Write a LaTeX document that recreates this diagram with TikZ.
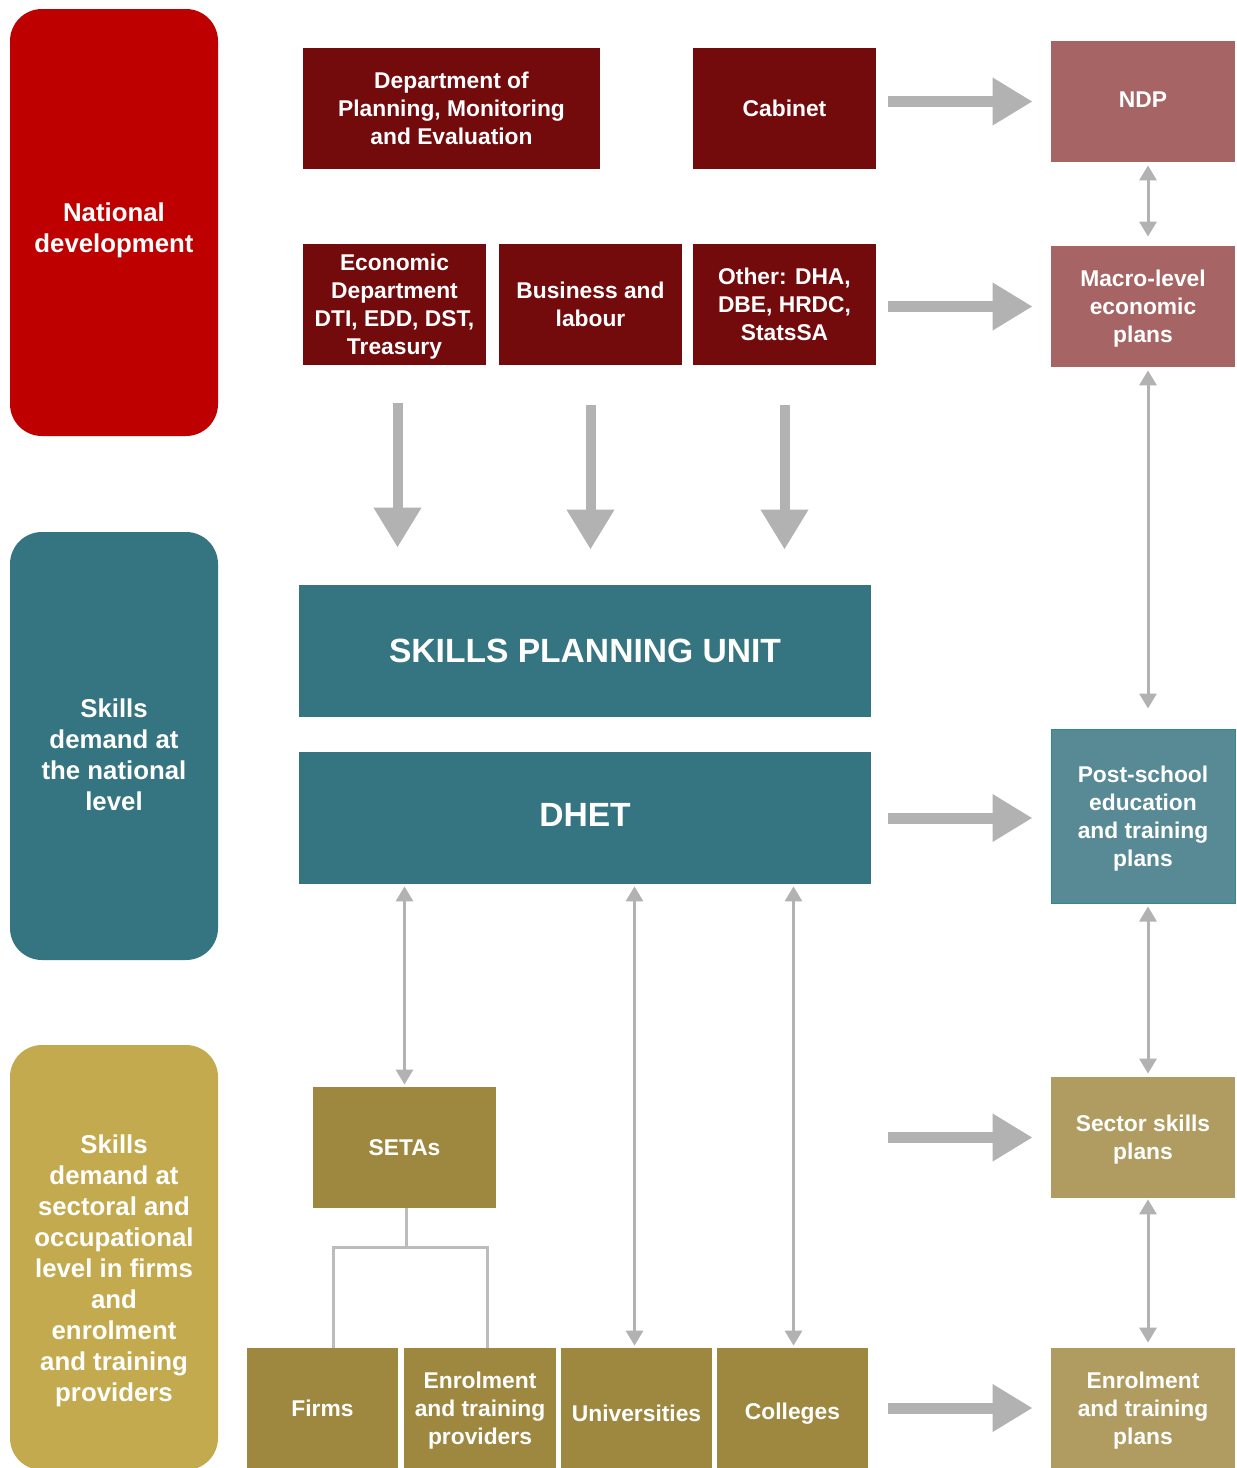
\documentclass[tikz,border=0pt]{standalone}
\usepackage{fontspec}
\setmainfont{Liberation Sans}
\usetikzlibrary{arrows.meta,calc}
\definecolor{natred}{HTML}{BF0000}
\definecolor{dred}{HTML}{730B0D}
\definecolor{rosebox}{HTML}{A66464}
\definecolor{teal1}{HTML}{357481}
\definecolor{teal2}{HTML}{588A95}
\definecolor{tealedge}{HTML}{2A8C8C}
\definecolor{goldL}{HTML}{C4AA4E}
\definecolor{goldM}{HTML}{9E8840}
\definecolor{goldR}{HTML}{B09C60}
\definecolor{arrowgrey}{HTML}{B3B2B3}
\definecolor{linegrey}{HTML}{BDBCBD}
\begin{document}
\begin{tikzpicture}[x=0.5pt,y=-0.5pt,
  box/.style={rectangle, inner sep=0pt, align=center, text=white, text depth=0pt,
    font=\bfseries\fontsize{11.4}{14}\selectfont},
  sidebox/.style={rectangle, rounded corners=16pt, inner sep=0pt, align=center,
    text=white, minimum width=104pt, font=\bfseries\fontsize{12.9}{15.5}\selectfont},
  sidetext/.style={inner sep=0pt, align=center, text=white,
    font=\bfseries\fontsize{12.9}{15.5}\selectfont},
  bigtext/.style={font=\bfseries\fontsize{16.8}{20}\selectfont},
  bigarrow/.style={draw=arrowgrey, line width=5.5pt, -{Triangle[width=22.5pt,length=20pt]}},
  downarrow/.style={draw=arrowgrey, line width=5pt, -{Triangle[width=22.5pt,length=20pt]}},
  thinarrow/.style={draw=arrowgrey, line width=1.5pt,
    {Triangle[width=8.5pt,length=7.5pt]}-{Triangle[width=8.5pt,length=7.5pt]}},
  joinline/.style={draw=linegrey, line width=1.5pt}
]
\useasboundingbox (0,0) rectangle (1237,1468);
\fill[white] (0,0) rectangle (1237,1468);

% left column
\node[sidebox, fill=natred, minimum height=213.5pt] (nat) at (114,222.5) {};
\node[sidetext] (natt) at (114,230.5) {National\\development};
\node[sidebox, fill=teal1, minimum height=214pt] (snat) at (114,746) {};
\node[sidetext] (snatt) at (114,755) {Skills\\demand at\\the national\\level};
\node[sidebox, fill=goldL, minimum height=212.5pt] (ssec) at (114,1257.5) {};
\node[sidetext] (ssect) at (114,1271)
  {Skills\\demand at\\sectoral and\\occupational\\level in firms\\and\\enrolment\\and training\\providers};

% top dark-red boxes
\node[box, fill=dred, minimum width=148.5pt, minimum height=60.5pt] (dpme) at (451.5,108.5)
  {Department of\\Planning, Monitoring\\and Evaluation};
\node[box, fill=dred, minimum width=91.5pt, minimum height=60.5pt] (cab) at (784.5,108.5)
  {Cabinet};
\node[box, fill=dred, minimum width=91.5pt, minimum height=60.5pt, text depth=-6pt] (econ) at (394.5,304.5)
  {Economic\\Department\\DTI, EDD, DST,\\Treasury};
\node[box, fill=dred, minimum width=91.5pt, minimum height=60.5pt] (bus) at (590.5,304.5)
  {Business and\\labour};
\node[box, fill=dred, minimum width=91.5pt, minimum height=60.5pt] (oth) at (784.5,304.5)
  {Other: DHA,\\DBE, HRDC,\\StatsSA};

% right column
\node[box, fill=rosebox, minimum width=92pt, minimum height=60.5pt, text depth=2pt] (ndp) at (1143,101.5)
  {NDP};
\node[box, fill=rosebox, minimum width=92pt, minimum height=60.5pt, text depth=-0.6pt] (macro) at (1143,306.5)
  {Macro-level\\economic\\plans};
\node[box, fill=teal2, draw=tealedge, line width=0.5pt, minimum width=92pt, minimum height=87pt, text depth=-5pt] (post) at (1143,816)
  {Post-school\\education\\and training\\plans};
\node[box, fill=goldR, minimum width=92pt, minimum height=60.5pt] (sector) at (1143,1137.5)
  {Sector skills\\plans};
\node[box, fill=goldR, minimum width=92pt, minimum height=60pt, text depth=-1.1pt] (enrp) at (1143,1408)
  {Enrolment\\and training\\plans};

% centre teal boxes
\node[box, bigtext, fill=teal1, minimum width=286pt, minimum height=66pt] (spu) at (585,651)
  {SKILLS PLANNING UNIT};
\node[box, bigtext, fill=teal1, minimum width=286pt, minimum height=66pt, text depth=3pt] (dhet) at (585,818)
  {DHET};

% gold boxes
\node[box, fill=goldM, minimum width=91.5pt, minimum height=60.5pt] (setas) at (404.5,1147.5)
  {SETAs};
\node[box, fill=goldM, minimum width=75.5pt, minimum height=60pt] (firms) at (322.5,1408)
  {Firms};
\node[box, fill=goldM, minimum width=76pt, minimum height=60pt, text depth=-2.6pt] (prov) at (480,1408)
  {Enrolment\\and training\\providers};
\node[box, fill=goldM, minimum width=75.5pt, minimum height=60pt, text height=13pt] (uni) at (636.5,1408)
  {Universities};
\node[box, fill=goldM, minimum width=75.5pt, minimum height=60pt, text height=11.5pt] (col) at (792.5,1408)
  {Colleges};

% thick horizontal arrows
\draw[bigarrow] ([xshift=6pt]cab.east |- ndp.west) -- ([xshift=-9pt]ndp.west);
\draw[bigarrow] ([xshift=6pt]oth.east |- macro.west) -- ([xshift=-9pt]macro.west);
\draw[bigarrow] ([xshift=8.5pt]dhet.east) -- ([xshift=-9pt]dhet.east -| post.west);
\coordinate (ss0) at (888,1137.5);
\draw[bigarrow] (ss0) -- ([xshift=-9pt]sector.west);
\draw[bigarrow] ([xshift=10pt]col.east) -- ([xshift=-9pt]col.east -| enrp.west);

% thick down arrows
\draw[downarrow] ([xshift=1.5pt,yshift=-19pt]econ.south) -- ([xshift=1.5pt,yshift=18.5pt]econ.south |- spu.north);
\draw[downarrow] ([yshift=-20pt]bus.south) -- ([yshift=17.5pt]bus.south |- spu.north);
\draw[downarrow] ([yshift=-20pt]oth.south) -- ([yshift=17.5pt]oth.south |- spu.north);

% thin double arrows (right column)
\draw[thinarrow, shorten <=1.5pt, shorten >=4.5pt] ([xshift=2.5pt]ndp.south) -- ([xshift=2.5pt]macro.north);
\draw[thinarrow, shorten <=1.5pt, shorten >=10pt] ([xshift=2.5pt]macro.south) -- ([xshift=2.5pt]post.north);
\draw[thinarrow, shorten <=1.5pt, shorten >=1.5pt] ([xshift=2.5pt]post.south) -- ([xshift=2.5pt]sector.north);
\draw[thinarrow, shorten <=0.5pt, shorten >=2.5pt] ([xshift=2.5pt]sector.south) -- ([xshift=2.5pt]enrp.north);

% thin double arrows (DHET)
\draw[thinarrow, shorten <=1pt, shorten >=1pt] (setas.north |- dhet.south) -- (setas.north);
\draw[thinarrow, shorten <=1pt, shorten >=1pt] ([xshift=-1pt]uni.north |- dhet.south) -- ([xshift=-1pt]uni.north);
\draw[thinarrow, shorten <=1pt, shorten >=1pt] ([xshift=0.5pt]col.north |- dhet.south) -- ([xshift=0.5pt]col.north);

% SETA branch connector
\coordinate (bl) at (333,1247);
\coordinate (br) at (487,1247);
\draw[joinline] ([xshift=1pt]setas.south) -- ([xshift=1pt]setas.south |- bl);
\draw[joinline] (bl |- firms.north) -- (bl) -- (br) -- (br |- prov.north);
\end{tikzpicture}
\end{document}
